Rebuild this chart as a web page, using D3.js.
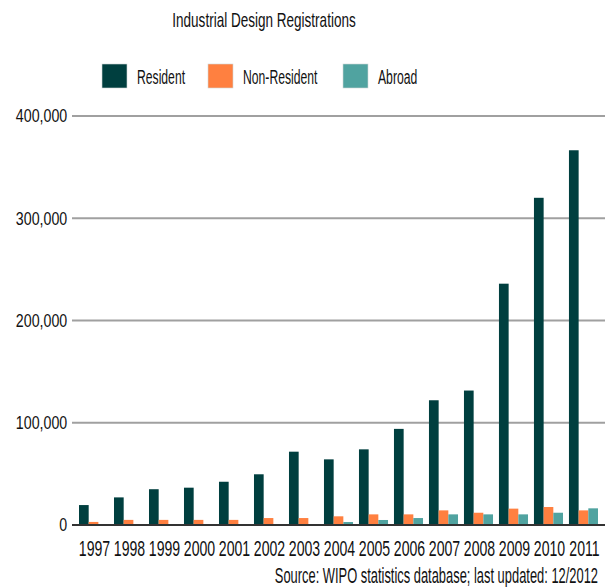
<!DOCTYPE html>
<html>
<head>
<meta charset="utf-8">
<script src="https://cdn.jsdelivr.net/npm/d3@7"></script>
<style>
  body { margin: 0; background: #fff; }
  svg text { font-family: "Liberation Sans", Arial, sans-serif; fill: #111; }
</style>
</head>
<body>
<div id="graphic"></div>
<script>
const years = ['1997', '1998', '1999', '2000', '2001', '2002', '2003', '2004',
  '2005', '2006', '2007', '2008', '2009', '2010', '2011'];
const resident = [19500, 27000, 35000, 36500, 42300, 49600, 71700, 64200,
  74000, 94000, 122000, 131500, 236000, 320000, 366500];
const nonResident = [3000, 5000, 5000, 5000, 5000, 6800, 6800, 8500,
  10400, 10400, 14300, 12000, 16000, 17600, 14300];
const abroad = [0, 0, 0, 0, 0, 0, 0, 2900,
  4900, 6800, 10400, 10400, 10400, 12000, 16300];
const seriesNames = ['Resident', 'Non-Resident', 'Abroad'];
const yTicks = [0, 100000, 200000, 300000, 400000];

const colors = ['#003f3f', '#ff8040', '#50a3a0'];
const width = 606, height = 587;

const svg = d3.select('#graphic').append('svg')
  .attr('width', width)
  .attr('height', height);

// the original face is very narrow, so text gets squeezed sideways
const addText = (parent, px, py, str, size, anchor, k) => parent.append('text')
  .attr('transform', 'translate(' + px + ',' + py + ') scale(' + k + ',1)')
  .attr('text-anchor', anchor)
  .style('font-size', size + 'px')
  .text(str);

const x = d3.scaleBand()
  .domain(years)
  .range([75.5, 601.5])
  .paddingInner(0.17)
  .paddingOuter(0.1);

const xSub = d3.scaleBand()
  .domain(seriesNames)
  .range([0, x.bandwidth()]);

const y = d3.scaleLinear()
  .domain([0, 400000])
  .range([525, 116]);

// title
addText(svg, 264, 27, 'Industrial Design Registrations', 20.5, 'middle', 0.66);

// legend
const legendX = [102, 208, 343];
const legend = svg.selectAll('.legend')
  .data(seriesNames)
  .enter().append('g')
  .attr('class', 'legend')
  .attr('transform', (d, i) => 'translate(' + legendX[i] + ',64)');

legend.append('rect')
  .attr('width', 25)
  .attr('height', 24)
  .attr('fill', (d, i) => colors[i])
  .attr('stroke', '#cfd8d8')
  .attr('stroke-width', 0.6);

legend.each(function (d) {
  addText(d3.select(this), 35, 19.5, d, 21, 'start', 0.58);
});

// gridlines + y labels
const yAxis = d3.axisLeft(y)
  .tickValues(yTicks)
  .tickSize(0)
  .tickPadding(6)
  .tickFormat(d3.format(','));

const yG = svg.append('g')
  .attr('transform', 'translate(72,0)')
  .call(yAxis);
yG.select('.domain').remove();
yG.selectAll('.tick text')
  .attr('fill', '#111')
  .attr('transform', 'scale(0.79,1)')
  .style('font-size', '18px')
  .style('font-family', '"Liberation Sans", Arial, sans-serif');

svg.selectAll('.grid')
  .data(yTicks.filter(d => d > 0))
  .enter().append('line')
  .attr('class', 'grid')
  .attr('x1', 72)
  .attr('x2', 605)
  .attr('y1', d => y(d))
  .attr('y2', d => y(d))
  .attr('stroke', '#a0a0a0')
  .attr('stroke-width', 2);

// bars
const table = years.map((yr, i) => ({
  year: yr,
  values: [resident[i], nonResident[i], abroad[i]]
}));

const groups = svg.selectAll('.group')
  .data(table)
  .enter().append('g')
  .attr('class', 'group')
  .attr('transform', d => 'translate(' + x(d.year) + ',0)');

groups.selectAll('rect')
  .data(d => d.values.map((v, i) => ({ name: seriesNames[i], value: v, i: i })))
  .enter().append('rect')
  .attr('x', d => xSub(d.name))
  .attr('width', xSub.bandwidth())
  .attr('y', d => y(d.value))
  .attr('height', d => y(0) - y(d.value))
  .attr('fill', d => colors[d.i]);

// zero line
svg.append('line')
  .attr('x1', 72)
  .attr('x2', 605)
  .attr('y1', y(0))
  .attr('y2', y(0))
  .attr('stroke', '#333')
  .attr('stroke-width', 2);

// x labels
const xAxis = d3.axisBottom(x).tickSize(0).tickPadding(0);
const xG = svg.append('g')
  .attr('transform', 'translate(1,556)')
  .call(xAxis);
xG.select('.domain').remove();
xG.selectAll('.tick text')
  .attr('fill', '#111')
  .attr('dy', null)
  .attr('y', 0)
  .attr('transform', 'scale(0.64,1)')
  .style('font-size', '22px')
  .style('font-family', '"Liberation Sans", Arial, sans-serif');

// source
addText(svg, 598, 583, 'Source: WIPO statistics database; last updated: 12/2012', 21.5, 'end', 0.6);
</script>
</body>
</html>
